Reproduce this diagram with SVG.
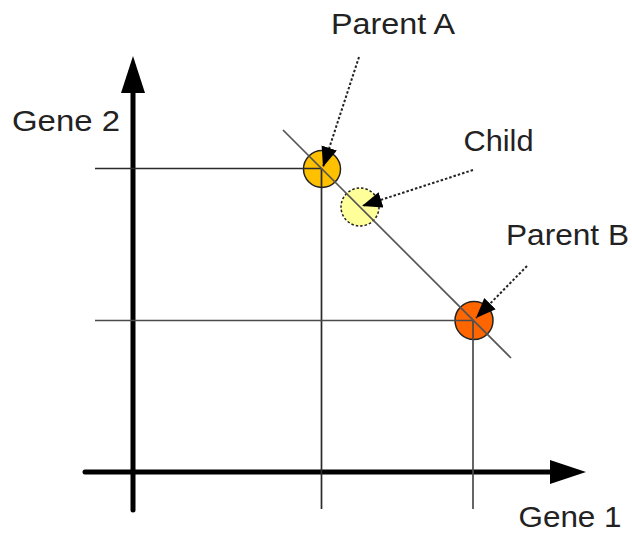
<svg xmlns="http://www.w3.org/2000/svg" width="632" height="533" viewBox="0 0 632 533">
  <style>
    .label { font-family: "Liberation Sans", Arial, sans-serif; font-size: 29px; fill: #222; }
    .axis { stroke: #000; stroke-width: 5; stroke-linecap: round; fill: none; }
    .guide { stroke: #2a2a2a; stroke-width: 1.7; fill: none; }
    .guide-b { stroke: #4a4a4a; stroke-width: 1.7; fill: none; }
    .diag { stroke: #555; stroke-width: 1.7; fill: none; }
    .pointer { stroke: #222; stroke-width: 2; stroke-dasharray: 2.5 2; fill: none; marker-end: url(#head); }
    .dot { stroke: #222; stroke-width: 1.5; }
  </style>
  <defs>
    <marker id="head" markerUnits="userSpaceOnUse" markerWidth="22" markerHeight="18" refX="20" refY="8" orient="auto">
      <path d="M0,0 L20,8 L0,16 z" fill="#000"/>
    </marker>
  </defs>
  <rect width="632" height="533" fill="#fff"/>

  <!-- axes -->
  <g id="axes">
    <line class="axis" x1="133" y1="510" x2="133" y2="90"/>
    <polygon points="121,93 133,56 145,93" fill="#000"/>
    <line class="axis" x1="85" y1="472" x2="552" y2="472"/>
    <polygon points="550,460 586,472 550,484" fill="#000"/>
    <text id="gene2" class="label" x="12" y="131" textLength="108" lengthAdjust="spacingAndGlyphs">Gene 2</text>
    <text id="gene1" class="label" x="518.5" y="527" textLength="103" lengthAdjust="spacingAndGlyphs">Gene 1</text>
  </g>

  <!-- individuals -->
  <g id="parentA">
    <circle class="dot" cx="322" cy="169" r="18.5" fill="#FFC000"/>
    <text class="label" x="331" y="34" textLength="124" lengthAdjust="spacingAndGlyphs">Parent A</text>
  </g>
  <g id="child">
    <circle class="dot" cx="360" cy="207" r="19" fill="#FFFF99" stroke-dasharray="2.5 2"/>
    <text class="label" x="463.5" y="150.5" textLength="70" lengthAdjust="spacingAndGlyphs">Child</text>
  </g>
  <g id="parentB">
    <circle class="dot" cx="474" cy="320.5" r="19" fill="#FF6600"/>
    <text class="label" x="506" y="245" textLength="123" lengthAdjust="spacingAndGlyphs">Parent B</text>
  </g>

  <!-- connectors: guides, crossover line and pointers -->
  <g id="connectors">
    <line class="guide" x1="95" y1="168.5" x2="322" y2="168.5"/>
    <line class="guide" x1="321.5" y1="168.5" x2="321.5" y2="509"/>
    <line class="guide-b" x1="95" y1="320.5" x2="474" y2="320.5"/>
    <line class="guide-b" x1="473" y1="320.5" x2="473" y2="509"/>
    <line class="diag" x1="283" y1="130" x2="511" y2="358"/>
    <line class="pointer" x1="359" y1="57" x2="323" y2="167"/>
    <line class="pointer" x1="473" y1="170" x2="362" y2="206"/>
    <line class="pointer" x1="527" y1="266" x2="476" y2="318"/>
  </g>
</svg>
